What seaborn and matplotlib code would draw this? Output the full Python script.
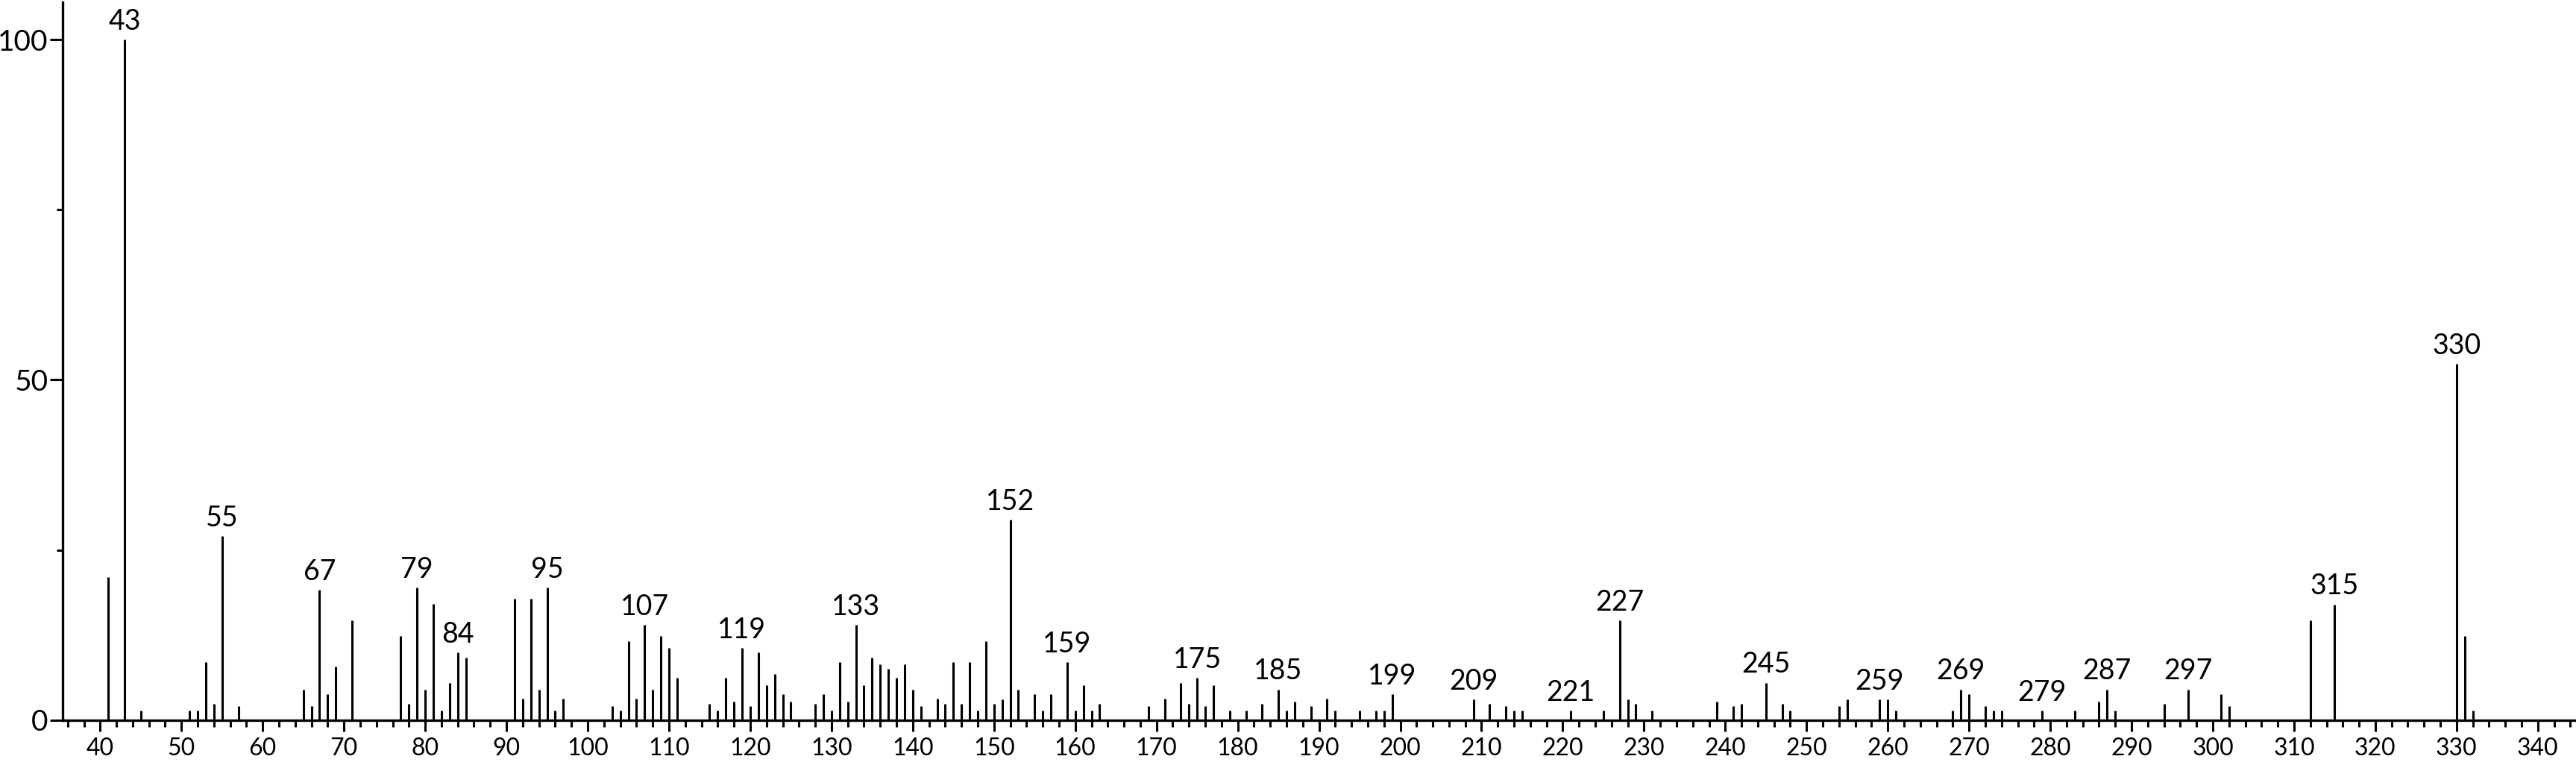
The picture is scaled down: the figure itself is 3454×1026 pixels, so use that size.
import matplotlib
matplotlib.use("Agg")
import matplotlib.pyplot as plt
from matplotlib.ticker import MultipleLocator, FixedLocator
import seaborn as sns

# m/z values and relative intensities
mz = [41, 43, 45, 51, 52, 53, 54, 55, 57, 65, 66, 67, 68, 69, 71, 77, 78, 79, 80, 81,
      82, 83, 84, 85, 91, 92, 93, 94, 95, 96, 97, 103, 104, 105, 106, 107, 108, 109, 110, 111,
      115, 116, 117, 118, 119, 120, 121, 122, 123, 124, 125, 128, 129, 130, 131, 132, 133, 134, 135, 136,
      137, 138, 139, 140, 141, 143, 144, 145, 146, 147, 148, 149, 150, 151, 152, 153, 155, 156, 157, 159,
      160, 161, 162, 163, 169, 171, 173, 174, 175, 176, 177, 179, 181, 183, 185, 186, 187, 189, 191, 192,
      195, 197, 198, 199, 209, 211, 213, 214, 215, 221, 225, 227, 228, 229, 231, 239, 241, 242, 245, 247,
      248, 254, 255, 259, 260, 261, 268, 269, 270, 272, 273, 274, 279, 283, 286, 287, 288, 294, 297, 301,
      302, 312, 315, 330, 331, 332]
intensity = [21.0, 100.0, 1.4, 1.4, 1.4, 8.5, 2.4, 27.0, 2.0, 4.5, 2.0, 19.1, 3.8, 7.9, 14.7, 12.3, 2.4, 19.5, 4.5, 17.1,
             1.4, 5.5, 9.9, 9.2, 17.8, 3.1, 17.8, 4.5, 19.5, 1.4, 3.1, 2.0, 1.4, 11.6, 3.1, 14.0, 4.5, 12.3, 10.6, 6.2,
             2.4, 1.4, 6.2, 2.7, 10.6, 2.0, 9.9, 5.1, 6.8, 3.8, 2.7, 2.4, 3.8, 1.4, 8.5, 2.7, 14.0, 5.1, 9.2, 8.2,
             7.5, 6.2, 8.2, 4.5, 2.0, 3.1, 2.4, 8.5, 2.4, 8.5, 1.4, 11.6, 2.4, 3.0, 29.4, 4.5, 3.8, 1.4, 3.8, 8.5,
             1.4, 5.1, 1.4, 2.4, 2.0, 3.1, 5.5, 2.4, 6.2, 2.0, 5.1, 1.4, 1.4, 2.4, 4.5, 1.4, 2.7, 2.0, 3.1, 1.4,
             1.4, 1.4, 1.4, 3.8, 3.0, 2.4, 2.0, 1.4, 1.4, 1.4, 1.4, 14.6, 3.0, 2.4, 1.4, 2.7, 2.0, 2.4, 5.5, 2.4,
             1.4, 2.0, 3.0, 3.0, 3.0, 1.4, 1.4, 4.5, 3.8, 2.0, 1.4, 1.4, 1.4, 1.4, 2.7, 4.5, 1.4, 2.4, 4.5, 3.8,
             2.0, 14.6, 17.0, 52.3, 12.3, 1.4]
labelled = [43, 55, 67, 79, 84, 95, 107, 119, 133, 152, 159, 175, 185, 199,
            209, 221, 227, 245, 259, 269, 279, 287, 297, 315, 330]

sns.set_theme(style="ticks")
plt.rcParams['font.family'] = ['Lato', 'DejaVu Sans']

W, H = 3454, 1026
fig = plt.figure(figsize=(W / 100, H / 100), dpi=100)
ax = fig.add_axes([84 / W, (H - 965.7) / H, (W - 84) / W, (965.7 - 3) / H])

ax.vlines(mz, 0, intensity, color='black', linewidth=2.2)

peak = dict(zip(mz, intensity))
for m in labelled:
    ax.annotate(str(m), xy=(m, peak[m]), xytext=(0, 9.5), textcoords='offset points',
                ha='center', va='baseline', fontsize=27, color='black')

ax.set_xlim(35.38, 344.7)
ax.set_ylim(0, 105.5)

ax.xaxis.set_major_locator(MultipleLocator(10))
ax.xaxis.set_minor_locator(MultipleLocator(2))
ax.yaxis.set_major_locator(FixedLocator([0, 50, 100]))
ax.yaxis.set_minor_locator(FixedLocator([25, 75]))

ax.tick_params(axis='x', which='major', length=11, width=2.2, pad=6, labelsize=23, colors='black')
ax.tick_params(axis='x', which='minor', length=6.5, width=2.2, colors='black')
ax.tick_params(axis='y', which='major', length=12, width=2.2, pad=2, labelsize=28, colors='black')
ax.tick_params(axis='y', which='minor', length=6, width=2.2, colors='black')

sns.despine(ax=ax)
for s in ['left', 'bottom']:
    ax.spines[s].set_linewidth(2.4)
    ax.spines[s].set_color('black')
ax.set_xlabel('')
ax.set_ylabel('')

fig.savefig('out.png', dpi=100, facecolor='white')
